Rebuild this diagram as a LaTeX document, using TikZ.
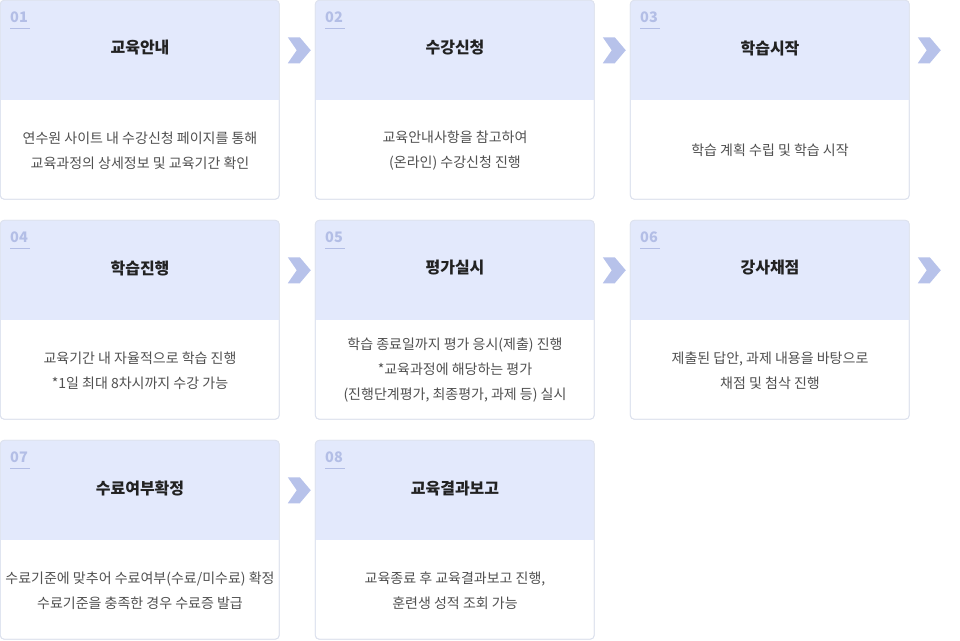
\documentclass[tikz,border=0pt]{standalone}
\usepackage{fontspec}
\setmainfont{Noto Sans CJK KR}
\usetikzlibrary{calc}
\definecolor{headfill}{HTML}{E3E9FC}
\definecolor{cardline}{HTML}{DDE2EE}
\definecolor{numcol}{HTML}{B3BEE6}
\definecolor{chevcol}{HTML}{B7C2EA}
\definecolor{titlecol}{HTML}{222222}
\definecolor{bodycol}{HTML}{505050}
\tikzset{
  cardbox/.style={draw=cardline, line width=0.8pt, fill=white, rounded corners=4pt,
    minimum width=279pt, minimum height=199pt, inner sep=0pt, outer sep=0pt},
  numtext/.style={anchor=west, inner sep=0pt, text=numcol, font=\fontsize{14.5}{16}\selectfont\bfseries},
  titletext/.style={inner sep=0pt, text=titlecol, font=\fontsize{16}{19}\selectfont\bfseries},
  bodytext/.style={inner sep=0pt, align=center, text=bodycol, font=\fontsize{14}{25}\selectfont},
  chev/.style={fill=chevcol, draw=none}
}
\newcommand\mkcard[6]{%
  \node[cardbox] (#1) at (#2+139.75, #3+99.75) {};
  \begin{scope}
    \clip[rounded corners=4pt] (#1.south west) rectangle (#1.north east);
    \fill[headfill] (#1.north west) rectangle ($(#1.north east)+(0,100)$);
  \end{scope}
  \draw[cardline, line width=0.8pt, rounded corners=4pt] (#1.south west) rectangle (#1.north east);
  \node[numtext] (#1num) at (#2+10, #3+17) {#4};
  \draw[numcol, line width=0.8pt] (#2+10, #3+28) -- (#2+30, #3+28);
  \node[titletext] (#1title) at (#2+140, #3+48) {#5};
  \node[bodytext] (#1body) at (#2+140, #3+150.5) {#6};
}
\newcommand\mkchev[1]{%
  \fill[chev] ($(#1.north east)+(8.5,37)$) -- ++(12,0) -- ++(11,13) -- ++(-11,13) -- ++(-12,0) -- ++(9,-13) -- cycle;
}
\begin{document}
\begin{tikzpicture}[x=1pt, y=-1pt]
\useasboundingbox (0,0) rectangle (960,640);
\mkcard{c1}{0}{0}{01}{교육안내}{연수원 사이트 내 수강신청 페이지를 통해\\교육과정의 상세정보 및 교육기간 확인}
\mkcard{c2}{315}{0}{02}{수강신청}{교육안내사항을 참고하여\\(온라인) 수강신청 진행}
\mkcard{c3}{630}{0}{03}{학습시작}{학습 계획 수립 및 학습 시작}
\mkcard{c4}{0}{220}{04}{학습진행}{교육기간 내 자율적으로 학습 진행\\*1일 최대 8차시까지 수강 가능}
\mkcard{c5}{315}{220}{05}{평가실시}{학습 종료일까지 평가 응시(제출) 진행\\*교육과정에 해당하는 평가\\(진행단계평가, 최종평가, 과제 등) 실시}
\mkcard{c6}{630}{220}{06}{강사채점}{제출된 답안, 과제 내용을 바탕으로\\채점 및 첨삭 진행}
\mkcard{c7}{0}{440}{07}{수료여부확정}{수료기준에 맞추어 수료여부(수료/미수료) 확정\\수료기준을 충족한 경우 수료증 발급}
\mkcard{c8}{315}{440}{08}{교육결과보고}{교육종료 후 교육결과보고 진행,\\훈련생 성적 조회 가능}
\mkchev{c1}\mkchev{c2}\mkchev{c3}
\mkchev{c4}\mkchev{c5}\mkchev{c6}
\mkchev{c7}
\end{tikzpicture}
\end{document}
